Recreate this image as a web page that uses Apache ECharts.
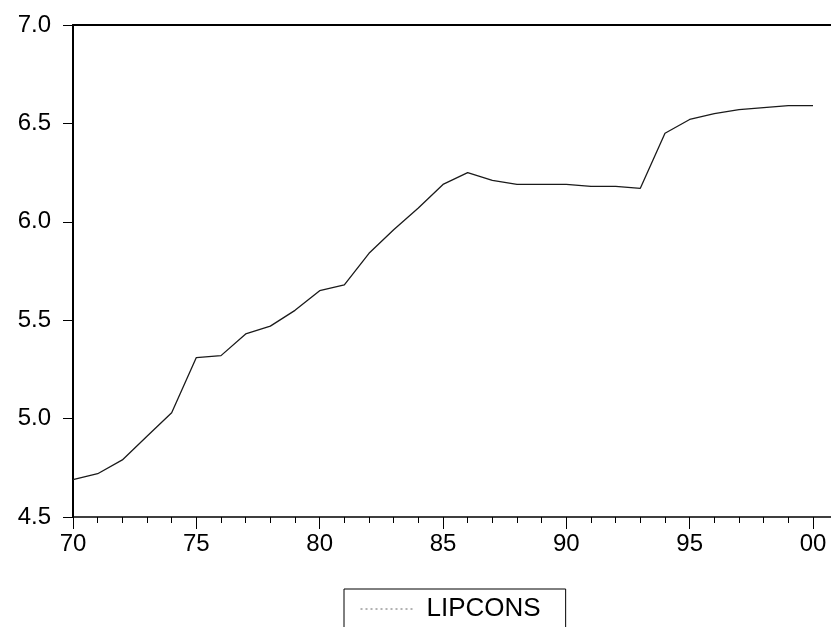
<!DOCTYPE html>
<html>
<head>
<meta charset="utf-8">
<script src="https://cdn.jsdelivr.net/npm/echarts@6/dist/echarts.min.js"></script>
<style>
  html, body { margin: 0; padding: 0; background: #fff; }
  #chart { width: 831px; height: 627px; }
</style>
</head>
<body>
<div id="chart"></div>
<script>
// Annual observations, 1970-2000
const years = [1970, 1971, 1972, 1973, 1974, 1975, 1976, 1977, 1978, 1979,
               1980, 1981, 1982, 1983, 1984, 1985, 1986, 1987, 1988, 1989,
               1990, 1991, 1992, 1993, 1994, 1995, 1996, 1997, 1998, 1999, 2000];
const lipcons = [4.69, 4.72, 4.79, 4.91, 5.03, 5.31, 5.32, 5.43, 5.47, 5.55,
                 5.65, 5.68, 5.84, 5.96, 6.07, 6.19, 6.25, 6.21, 6.19, 6.19,
                 6.19, 6.18, 6.18, 6.17, 6.45, 6.52, 6.55, 6.57, 6.58, 6.59, 6.59];
const majorYears = [1970, 1975, 1980, 1985, 1990, 1995, 2000];
const majorLabels = ['70', '75', '80', '85', '90', '95', '00'];
const seriesName = 'LIPCONS';

const font = '"Liberation Sans", Arial, sans-serif';
const xMin = 1970, xMax = 2000.73;

const chart = echarts.init(document.getElementById('chart'), null, { renderer: 'canvas' });

const option = {
  animation: false,
  backgroundColor: '#ffffff',
  grid: {
    left: 73, top: 25, right: 0, bottom: 110,
    show: false, outerBoundsMode: 'none'
  },
  xAxis: [
    {
      // yearly minor ticks
      type: 'value', min: xMin, max: xMax,
      axisLine: { show: true, lineStyle: { color: '#000', width: 1.5 } },
      axisTick: { show: true, inside: false, length: 6, customValues: years,
                  lineStyle: { color: '#000', width: 1 } },
      axisLabel: { show: false },
      splitLine: { show: false }
    },
    {
      // major ticks and labels every five years
      type: 'value', min: xMin, max: xMax, position: 'bottom',
      axisLine: { show: false },
      axisTick: { show: true, inside: false, length: 12, customValues: majorYears,
                  lineStyle: { color: '#000', width: 1 } },
      axisLabel: {
        show: true, margin: 15, customValues: majorYears,
        fontFamily: font, fontSize: 24, color: '#000',
        formatter: v => {
          const i = majorYears.indexOf(Math.round(v));
          return i >= 0 ? majorLabels[i] : '';
        }
      },
      splitLine: { show: false }
    },
    {
      // frame line along the top of the plot
      type: 'value', min: xMin, max: xMax, position: 'top',
      axisLine: { show: true, lineStyle: { color: '#000', width: 2 } },
      axisTick: { show: false },
      axisLabel: { show: false },
      splitLine: { show: false }
    }
  ],
  yAxis: {
    type: 'value', min: 4.5, max: 7.0, interval: 0.5,
    axisLine: { show: true, lineStyle: { color: '#000', width: 2 } },
    axisTick: { show: true, inside: false, length: 10, lineStyle: { color: '#000', width: 1 } },
    axisLabel: {
      margin: 22, fontFamily: font, fontSize: 24, color: '#000',
      formatter: v => v.toFixed(1)
    },
    splitLine: { show: false }
  },
  legend: {
    show: true,
    left: 344, top: 589,
    orient: 'horizontal',
    padding: [7, 25, 24, 16],
    borderColor: '#000', borderWidth: 1,
    itemWidth: 52, itemHeight: 14,
    itemStyle: { opacity: 0 },
    lineStyle: { color: '#666', width: 1, type: [2, 3] },
    textStyle: { fontFamily: font, fontSize: 26, color: '#000', padding: [0, 0, 0, 9] },
    data: [seriesName]
  },
  series: [{
    name: seriesName,
    type: 'line',
    xAxisIndex: 0,
    data: years.map((y, i) => [y, lipcons[i]]),
    symbol: 'none',
    lineStyle: { color: '#1a1a1a', width: 1.3 }
  }]
};

chart.setOption(option);
</script>
</body>
</html>
